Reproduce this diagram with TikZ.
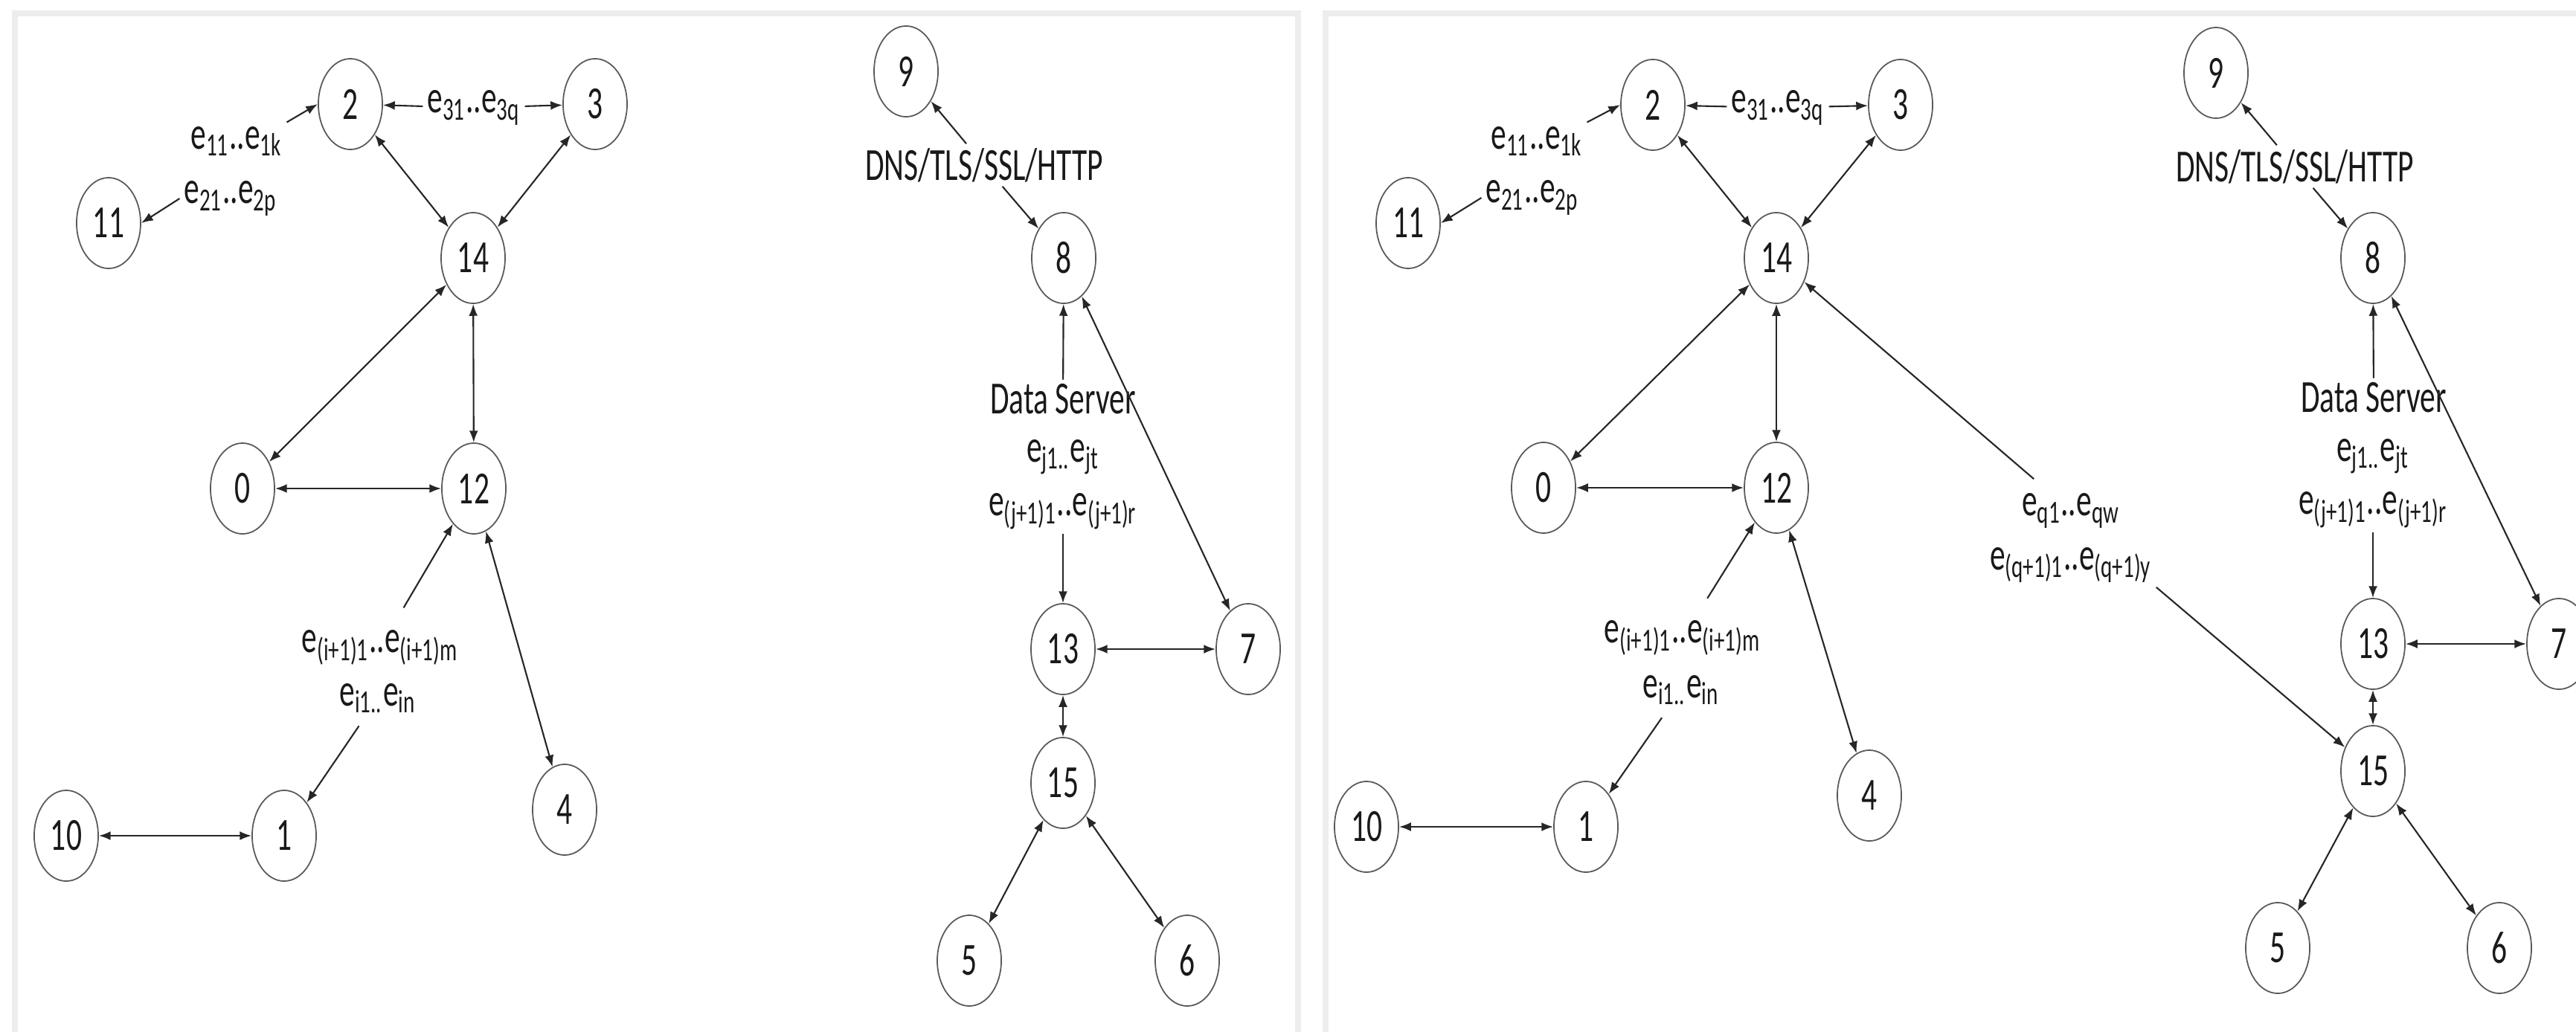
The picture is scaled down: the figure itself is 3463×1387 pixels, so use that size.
\documentclass[tikz,border=0pt]{standalone}
\usepackage{fontspec}
\newfontfamily\carl[FakeStretch=0.67]{Carlito}
\usetikzlibrary{shapes.geometric,arrows.meta}
\begin{document}
\begin{tikzpicture}[x=0.01cm,y=-0.01cm,
  nd/.style={ellipse,draw=black!65,line width=0.5pt,minimum width=0.86cm,minimum height=1.22cm,inner sep=0pt,font=\carl\fontsize{17.6}{20}\selectfont,text=black!90},
  lb/.style={inner sep=1.5pt,font=\carl\fontsize{17.6}{20}\selectfont,text=black!90},
  ln/.style={draw=black!85,line width=0.6pt},
  one/.style={ln,-{Latex[length=4.5pt,width=3.4pt]}},
  two/.style={ln,{Latex[length=4.5pt,width=3.4pt]}-{Latex[length=4.5pt,width=3.4pt]}},
  panel/.style={draw=black!7,line width=2.3pt}]
\useasboundingbox (0,0) rectangle (3463,1387);
\clip (0,0) rectangle (3463,1387);
\fill[white] (0,0) rectangle (3463,1387);
% panel frames
\draw[panel] (20,18) rectangle (1745,1400);
\draw[panel] (1782,18) rectangle (3500,1400);

% ================= LEFT PANEL =================
\node[nd] (L2) at (471,140) {2};
\node[nd] (L3) at (800,140) {3};
\node[nd] (L11) at (146,300) {11};
\node[nd] (L14) at (636,347) {14};
\node[nd] (L0) at (326,657) {0};
\node[nd] (L12) at (637,657) {12};
\node[nd] (L4) at (759,1089) {4};
\node[nd] (L10) at (89,1124) {10};
\node[nd] (L1) at (382,1124) {1};
\node[nd] (L9) at (1218,96) {9};
\node[nd] (L8) at (1430,347) {8};
\node[nd] (L13) at (1429,873) {13};
\node[nd] (L7) at (1678,873) {7};
\node[nd] (L15) at (1429,1053) {15};
\node[nd] (L5) at (1303,1292) {5};
\node[nd] (L6) at (1596,1292) {6};

\node[lb] (La) at (318,190) {e\textsubscript{11}..e\textsubscript{1k}};
\node[lb] (Lb) at (310,267) {e\textsubscript{21}..e\textsubscript{2p}};
\node[lb] (Lc) at (637,145) {e\textsubscript{31}..e\textsubscript{3q}};
\node[lb] (Ld) at (511,871) {e\textsubscript{(i+1)1}..e\textsubscript{(i+1)m}};
\node[lb] (Le) at (508,939) {e\textsubscript{i1..}e\textsubscript{in}};
\node[lb] (Ldns) at (1323,222) {DNS/TLS/SSL/HTTP};
\node[lb] (Lds) at (1429,537) {Data Server};
\node[lb] (Lf) at (1429,615) {e\textsubscript{j1..}e\textsubscript{jt}};
\node[lb] (Lg) at (1429,688) {e\textsubscript{(j+1)1}..e\textsubscript{(j+1)r}};

\draw[one] (La.north east) -- (L2.west);
\draw[one] (Lb.west) -- (L11.east);
\draw[one] (Lc) -- (L2);
\draw[one] (Lc) -- (L3);
\draw[two] (L2) -- (L14);
\draw[two] (L3) -- (L14);
\draw[two] (L14) -- (L0);
\draw[two] (L14) -- (L12);
\draw[two] (L0) -- (L12);
\draw[two] (L12) -- (L4);
\draw[two] (L10) -- (L1);
\draw[one,shorten <=8pt] (Ld) -- (L12);
\draw[one,shorten <=4pt] (Le) -- (L1);
\draw[one] (Ldns) -- (L9);
\draw[one] (Ldns) -- (L8);
\draw[one] (Lds) -- (L8);
\draw[one] (Lg) -- (L13);
\draw[two] (L8) -- (L7);
\draw[two] (L13) -- (L7);
\draw[two] (L13) -- (L15);
\draw[two] (L15) -- (L5);
\draw[two] (L15) -- (L6);

% ================= RIGHT PANEL =================
\node[nd] (R2) at (2222,141) {2};
\node[nd] (R3) at (2555,141) {3};
\node[nd] (R11) at (1893,300) {11};
\node[nd] (R14) at (2388,347) {14};
\node[nd] (R0) at (2075,656) {0};
\node[nd] (R12) at (2388,656) {12};
\node[nd] (R4) at (2513,1070) {4};
\node[nd] (R10) at (1837,1112) {10};
\node[nd] (R1) at (2132,1112) {1};
\node[nd] (R9) at (2979,98) {9};
\node[nd] (R8) at (3190,347) {8};
\node[nd] (R13) at (3190,866) {13};
\node[nd] (R7) at (3440,866) {7};
\node[nd] (R15) at (3190,1037) {15};
\node[nd] (R5) at (3062,1275) {5};
\node[nd] (R6) at (3360,1275) {6};

\node[lb] (Ra) at (2066,190) {e\textsubscript{11}..e\textsubscript{1k}};
\node[lb] (Rb) at (2060,266) {e\textsubscript{21}..e\textsubscript{2p}};
\node[lb] (Rc) at (2390,145) {e\textsubscript{31}..e\textsubscript{3q}};
\node[lb] (Rd) at (2262,858) {e\textsubscript{(i+1)1}..e\textsubscript{(i+1)m}};
\node[lb] (Re) at (2260,928) {e\textsubscript{i1..}e\textsubscript{in}};
\node[lb] (Rdns) at (3085,224) {DNS/TLS/SSL/HTTP};
\node[lb] (Rds) at (3191,535) {Data Server};
\node[lb] (Rf) at (3190,614) {e\textsubscript{j1..}e\textsubscript{jt}};
\node[lb] (Rg) at (3190,686) {e\textsubscript{(j+1)1}..e\textsubscript{(j+1)r}};
\node[lb] (Rq1) at (2784,687) {e\textsubscript{q1}..e\textsubscript{qw}};
\node[lb] (Rq2) at (2784,760) {e\textsubscript{(q+1)1}..e\textsubscript{(q+1)y}};

\draw[one] (Ra.north east) -- (R2.west);
\draw[one] (Rb.west) -- (R11.east);
\draw[one] (Rc) -- (R2);
\draw[one] (Rc) -- (R3);
\draw[two] (R2) -- (R14);
\draw[two] (R3) -- (R14);
\draw[two] (R14) -- (R0);
\draw[two] (R14) -- (R12);
\draw[two] (R0) -- (R12);
\draw[two] (R12) -- (R4);
\draw[two] (R10) -- (R1);
\draw[one,shorten <=8pt] (Rd) -- (R12);
\draw[one,shorten <=4pt] (Re) -- (R1);
\draw[one,shorten <=6pt] (Rq1) -- (R14);
\draw[one] (Rq2.south east) -- (R15);
\draw[one] (Rdns) -- (R9);
\draw[one] (Rdns) -- (R8);
\draw[one] (Rds) -- (R8);
\draw[one] (Rg) -- (R13);
\draw[two] (R8) -- (R7);
\draw[two] (R13) -- (R7);
\draw[two] (R13) -- (R15);
\draw[two] (R15) -- (R5);
\draw[two] (R15) -- (R6);
\end{tikzpicture}
\end{document}
